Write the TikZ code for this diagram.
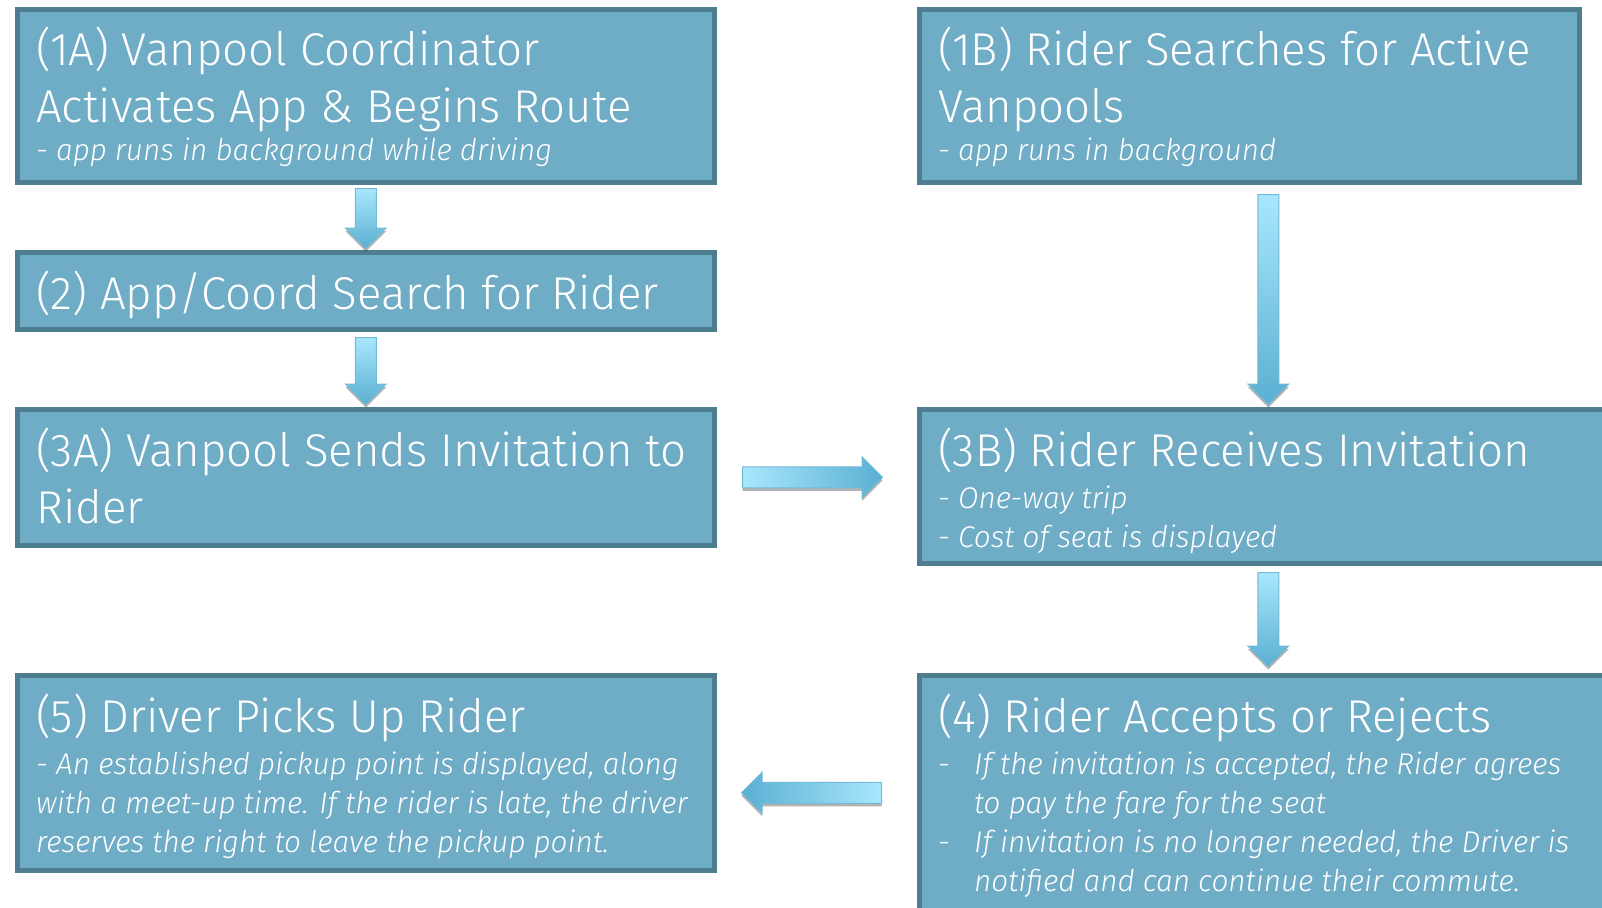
\documentclass[tikz,border=0pt]{standalone}
\usepackage{fontspec}
\setmainfont{Fira Sans Light}[FakeStretch=0.99]
\usetikzlibrary{shapes.arrows,shadows,calc}
\definecolor{boxfill}{HTML}{6FACC6}
\definecolor{boxline}{HTML}{4E7D90}
\definecolor{arrlight}{HTML}{A9E7FD}
\definecolor{arrdark}{HTML}{5AAFD2}
\definecolor{arrline}{HTML}{72BBD6}
\begin{document}
\begin{tikzpicture}[x=1pt,y=-1pt,
  box/.style={draw=boxline, line width=5pt, fill=boxfill, anchor=north west, outer sep=0pt, inner sep=0pt, minimum width=697.5pt},
  ttl/.style={anchor=base west, inner sep=0pt, text=white, font=\fontsize{46}{55}\selectfont},
  sub/.style={anchor=base west, inner sep=0pt, text=white, font=\fontsize{30}{39}\selectfont\itshape},
  fatarrow/.style={single arrow, single arrow head extend=10pt, minimum width=40pt, inner xsep=0pt, inner ysep=10pt,
    draw=arrline, line width=1pt, anchor=tail,
    drop shadow={shadow xshift=0pt, shadow yshift=-3pt, opacity=0.3, fill=black}},
  downarr/.style={fatarrow, rotate=-90, top color=arrlight, bottom color=arrdark},
  rightarr/.style={fatarrow, left color=arrlight, right color=arrdark},
  leftarr/.style={fatarrow, rotate=180, left color=arrdark, right color=arrlight}
]
\useasboundingbox (0,0) rectangle (1602,907);
% boxes
\node[box, minimum height=172.5pt] (b1A) at (17,10) {};
\node[box, minimum width=659.5pt, minimum height=172.5pt] (b1B) at (919.5,10) {};
\node[box, minimum height=76.5pt] (b2) at (17,252.5) {};
\node[box, minimum height=135.5pt] (b3A) at (17,409.5) {};
\node[box, minimum height=154pt] (b3B) at (919.5,409.5) {};
\node[box, minimum height=274.5pt] (b4) at (919.5,675.5) {};
\node[box, minimum height=194.5pt] (b5) at (17,675.5) {};
% texts
\node[ttl] (t1a1) at (36,65) {(1A) Vanpool Coordinator};
\node[ttl] (t1a2) at (36,122) {Activates App \& Begins Route};
\node[sub] (t1a3) at (36,160) {- app runs in background while driving};
\node[ttl] (t1b1) at (938,65) {(1B) Rider Searches for Active};
\node[ttl] (t1b2) at (938,122) {Vanpools};
\node[sub] (t1b3) at (938,160) {- app runs in background};
\node[ttl] (t2) at (36,309) {(2) App/Coord Search for Rider};
\node[ttl] (t3a1) at (36,466) {(3A) Vanpool Sends Invitation to};
\node[ttl] (t3a2) at (36,523) {Rider};
\node[ttl] (t3b1) at (938,466) {(3B) Rider Receives Invitation};
\node[sub] (t3b2) at (938,508) {- One-way trip};
\node[sub] (t3b3) at (938,547) {- Cost of seat is displayed};
\node[ttl] (t4) at (938,732) {(4) Rider Accepts or Rejects};
\node[sub] (t4d1) at (938,774) {-};
\node[sub] (t4l1) at (974,774) {If the invitation is accepted, the Rider agrees};
\node[sub] (t4l2) at (974,813) {to pay the fare for the seat};
\node[sub] (t4d2) at (938,852) {-};
\node[sub] (t4l3) at (974,852) {If invitation is no longer needed, the Driver is};
\node[sub] (t4l4) at (974,891) {notified and can continue their commute.};
\node[ttl] (t5) at (36,732) {(5) Driver Picks Up Rider};
\node[sub] (t5l1) at (36,774) {- An established pickup point is displayed, along};
\node[sub] (t5l2) at (36,813) {with a meet-up time. If the rider is late, the driver};
\node[sub] (t5l3) at (36,852) {reserves the right to leave the pickup point.};
% connectors
\coordinate (m45) at ($(b5.east)!0.5!(b4.west)$);
\node[downarr, minimum height=60pt] (a12) at ($(b1A.south)+(0,5.5)$) {};
\node[downarr, minimum height=67pt] (a23) at ($(b2.south)+(0,8)$) {};
\node[downarr, minimum height=210pt] (a1b3b) at ($(b1B.south -| b3B.north)+(0,11.5)$) {};
\node[downarr, minimum height=94pt] (a3b4) at ($(b3B.south)+(0,8.5)$) {};
\node[rightarr, minimum height=140pt] (a3a3b) at ($(b3A.east)+(27.5,0)$) {};
\node[leftarr, minimum height=140pt] (a45) at ($(m45)+(65,0)$) {};
\end{tikzpicture}
\end{document}
